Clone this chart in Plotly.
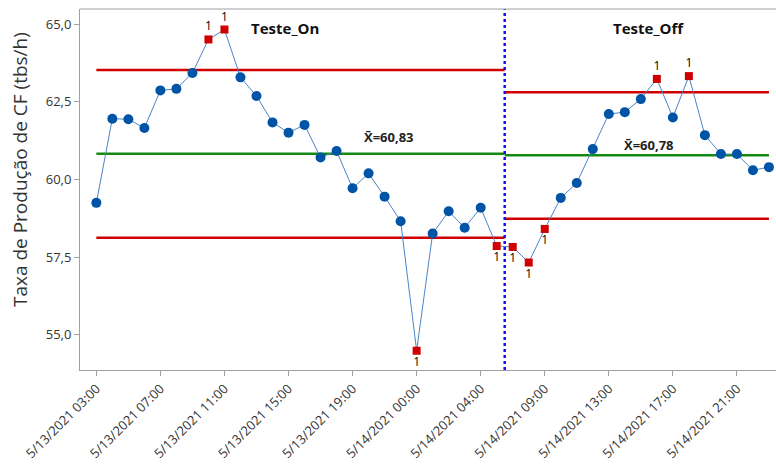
import plotly.graph_objects as go

# Hourly production-rate observations (tbs/h), two test stages
rate = [
    59.25, 61.96, 61.94, 61.66, 62.87, 62.92, 63.43, 64.51, 64.83, 63.29,
    62.69, 61.84, 61.51, 61.76, 60.71, 60.92, 59.72, 60.20, 59.45, 58.66,
    54.49, 58.26, 58.98, 58.45, 59.09, 57.86,
    57.83, 57.33, 58.41, 59.41, 59.89, 60.98, 62.11, 62.17, 62.59, 63.24,
    62.00, 63.33, 61.43, 60.82, 60.82, 60.30, 60.40,
]

# Stage definitions: name, number of observations, centre line and control limits
stage_names = ["Teste_On", "Teste_Off"]
stage_sizes = [26, 17]
stage_center = [60.83, 60.78]
stage_ucl = [63.53, 62.81]
stage_lcl = [58.13, 58.74]

# Tick labels on every fourth observation
tick_pos = [0, 4, 8, 12, 16, 20, 24, 28, 32, 36, 40]
tick_text = [
    "5/13/2021 03:00", "5/13/2021 07:00", "5/13/2021 11:00", "5/13/2021 15:00",
    "5/13/2021 19:00", "5/14/2021 00:00", "5/14/2021 04:00", "5/14/2021 09:00",
    "5/14/2021 13:00", "5/14/2021 17:00", "5/14/2021 21:00",
]

RED = "#D00000"
GREEN = "#138A13"
DOT_BLUE = "#0054A6"
LINE_BLUE = "#4A84C8"
FONT = "Open Sans"

n = len(rate)
idx = list(range(n))

# Stage boundaries (midway between last point of one stage and first of the next)
starts, ends = [], []
s = 0
for k, size in enumerate(stage_sizes):
    first, last = s, s + size - 1
    starts.append(first if k == 0 else first - 0.5)
    ends.append(last if k == len(stage_sizes) - 1 else last + 0.5)
    s += size

stage_of = []
for k, size in enumerate(stage_sizes):
    stage_of += [k] * size

fig = go.Figure()

# Control limits and centre lines per stage
for k in range(len(stage_sizes)):
    xs = [starts[k], ends[k]]
    for val, col in ((stage_ucl[k], RED), (stage_lcl[k], RED), (stage_center[k], GREEN)):
        fig.add_trace(go.Scatter(x=xs, y=[val, val], mode="lines",
                                 line=dict(color=col, width=2.5),
                                 hoverinfo="skip", showlegend=False))

# Connecting line
fig.add_trace(go.Scatter(x=idx, y=rate, mode="lines",
                         line=dict(color=LINE_BLUE, width=1),
                         showlegend=False, hoverinfo="skip"))

# Split points into in-control and out-of-control (above / below limits)
ok_x, ok_y, hi_x, hi_y, lo_x, lo_y = [], [], [], [], [], []
for i, v in enumerate(rate):
    k = stage_of[i]
    if v > stage_ucl[k]:
        hi_x.append(i); hi_y.append(v)
    elif v < stage_lcl[k]:
        lo_x.append(i); lo_y.append(v)
    else:
        ok_x.append(i); ok_y.append(v)

fig.add_trace(go.Scatter(x=ok_x, y=ok_y, mode="markers",
                         marker=dict(color=DOT_BLUE, size=10, symbol="circle"),
                         showlegend=False))

# Out-of-control points flagged with test 1
fig.add_trace(go.Scatter(x=hi_x, y=hi_y, mode="markers+text",
                         marker=dict(color=RED, size=8, symbol="square"),
                         text=["1"] * len(hi_x), textposition="top center",
                         textfont=dict(family=FONT, size=12, color="black"),
                         showlegend=False))
fig.add_trace(go.Scatter(x=lo_x, y=lo_y, mode="markers+text",
                         marker=dict(color=RED, size=8, symbol="square"),
                         text=["1"] * len(lo_x), textposition="bottom center",
                         textfont=dict(family=FONT, size=12, color="black"),
                         showlegend=False))

# Stage divider
fig.add_shape(type="line", xref="x", yref="paper", x0=ends[0], x1=ends[0],
              y0=0, y1=1, line=dict(color="#1010F0", width=2.5, dash="dot"))
# Top frame line
fig.add_shape(type="line", xref="paper", yref="paper", x0=0, x1=1, y0=1, y1=1,
              line=dict(color="#A0A0A0", width=1))

# Stage titles and centre-line labels
title_x = [11.8, 34.5]
mean_x = [18.25, 34.5]
mean_y = [61.36, 61.1]
for k in range(len(stage_names)):
    fig.add_annotation(x=title_x[k], y=64.88, text="<b>%s</b>" % stage_names[k],
                       showarrow=False, font=dict(family=FONT, size=15, color="#111"))
    fig.add_annotation(x=mean_x[k], y=mean_y[k],
                       text="<b>X\u0304=%s</b>" % f"{stage_center[k]:.2f}".replace(".", ","),
                       showarrow=False, font=dict(family=FONT, size=13, color="#222"))

# Vertical axis title
fig.add_annotation(xref="paper", yref="paper", x=-0.0862, y=0.554,
                   text="Taxa de Produção de CF (tbs/h)", textangle=-90,
                   showarrow=False, xanchor="center", yanchor="middle",
                   font=dict(family=FONT, size=19, color="#333"))

fig.update_layout(
    width=776, height=464,
    margin=dict(l=80, r=0, t=9, b=94),
    plot_bgcolor="white", paper_bgcolor="white",
    separators=", ",
    font=dict(family=FONT, color="#333"),
    xaxis=dict(range=[-1.02, 42.44], tickmode="array", tickvals=tick_pos,
               ticktext=tick_text, tickangle=-45, showgrid=False, zeroline=False,
               showline=True, linecolor="#A0A0A0", linewidth=1,
               ticks="outside", ticklen=5, tickcolor="#A0A0A0",
               tickfont=dict(family=FONT, size=13, color="#333")),
    yaxis=dict(range=[53.87, 65.49], tickvals=[55, 57.5, 60, 62.5, 65],
               tickformat=".1f", showgrid=False, zeroline=False,
               showline=True, linecolor="#A0A0A0", linewidth=1,
               ticks="outside", ticklen=5, tickcolor="#A0A0A0",
               tickfont=dict(family=FONT, size=13, color="#333")),
)

fig.write_html("out.html")
